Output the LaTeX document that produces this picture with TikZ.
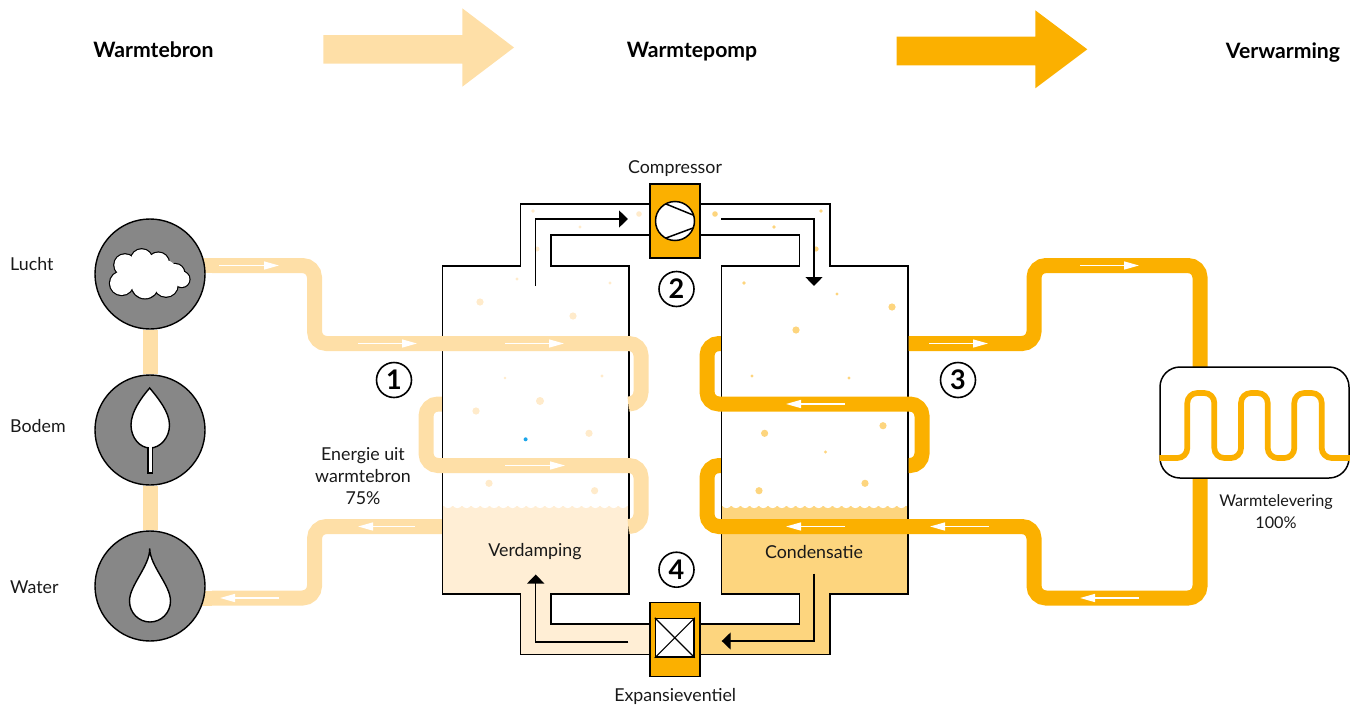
\documentclass[tikz,border=0pt]{standalone}
\usepackage{fontspec}
\setmainfont{Lato}
\usetikzlibrary{arrows.meta,positioning,shapes.geometric,backgrounds}
\definecolor{pipelight}{HTML}{FEDFA7}
\definecolor{pipedark}{HTML}{FBB000}
\definecolor{liquidlight}{HTML}{FFEED5}
\definecolor{liquiddark}{HTML}{FDD57E}
\definecolor{sourcegray}{HTML}{878787}
\definecolor{bubblelight}{HTML}{FFEBCB}
\definecolor{bubbledropblue}{HTML}{1BA5EA}
\begin{document}
\begin{tikzpicture}[x=1pt,y=-1pt,>=Triangle]
    \tikzset{
        lab/.style={font={\fontsize{17.8}{22}\selectfont}, text=black!90, align=center, inner sep=0pt},
        head/.style={font={\fontsize{21.2}{24}\selectfont\bfseries}, inner sep=0pt},
        num/.style={circle, draw, line width=1.6, minimum size=35, inner sep=0pt, font={\fontsize{27}{27}\selectfont\bfseries}},
        source/.style={circle, draw, line width=1.4, fill=sourcegray, minimum size=110, inner sep=0pt},
        tank/.style={draw, line width=1.5, line join=miter},
        unit/.style={draw, line width=1.5, fill=pipedark, minimum width=50, minimum height=74, inner sep=0pt},
        pipel/.style={line width=15, pipelight, rounded corners=12},
        piped/.style={line width=15, pipedark, rounded corners=12},
        flow/.style={->, line width=1.4, black, >={Triangle[length=9,width=17]}},
        wflow/.style={->, line width=1.4, white, >={Triangle[length=15,width=8]}},
        icon/.style={draw, line width=1.4, fill=white},
    }
    \useasboundingbox (0,0) rectangle (1362,704);

    \fill[pipelight] (323.3,35) -- (462.3,35) -- (462.3,8.3) -- (514,47.5) -- (462.3,86.7) -- (462.3,63.7) -- (323.3,63.7) -- cycle;
    \fill[pipedark] (896.7,36.7) -- (1035.3,36.7) -- (1035.3,10.3) -- (1087.3,49.3) -- (1035.3,88.3) -- (1035.3,65.3) -- (896.7,65.3) -- cycle;

    \node[head] (warmtebron) at (153.5,50) {Warmtebron};
    \node[head] (warmtepomp) at (692,52) {Warmtepomp};
    \node[head] (verwarming) at (1283,52.5) {Verwarming};

    \node[source] (lucht) at (150,274) {};
    \node[source] (bodem) at (150,430) {};
    \node[source] (water) at (150,586) {};
    \coordinate (luchtuit) at (212,265.5);
    \coordinate (wateruit) at (212,598);
    \begin{scope}[on background layer]
        \draw[line width=15, pipelight] (lucht) -- (bodem);
        \draw[line width=15, pipelight] (bodem) -- (water);
        \draw[line width=15, pipelight] (lucht |- luchtuit) -- (luchtuit);
        \draw[line width=15, pipelight] (water |- wateruit) -- (wateruit);
    \end{scope}

    \node[lab, right] at (10,264) {Lucht};
    \node[lab, right] at (10,426) {Bodem};
    \node[lab, right] at (10,587) {Water};

    \foreach \cx/\cy/\cr in {125/265/10.7, 141.7/260/10.7, 158.3/263.3/10.7, 175/273.3/9.3, 181.7/279.3/7.7, 121.7/283.3/11.7, 145/285/13.3, 166/285/11.7}
        \fill[black] (\cx,\cy) circle[radius=\cr+1.2];
    \foreach \cx/\cy/\cr in {125/265/10.7, 141.7/260/10.7, 158.3/263.3/10.7, 175/273.3/9.3, 181.7/279.3/7.7, 121.7/283.3/11.7, 145/285/13.3, 166/285/11.7, 150/272/13, 135/272/12, 165/272/12}
        \fill[white] (\cx,\cy) circle[radius=\cr];

    \draw[icon] (148,446) rectangle (152.3,473);
    \draw[icon] (149.7,388) .. controls (141,398) and (131,412) .. (131,425) .. controls (131,438) and (140,448) .. (150,448) .. controls (160,448) and (169.5,438) .. (169.5,425) .. controls (169.5,412) and (158,398) .. (149.7,388) -- cycle;
    \fill[white] (148.8,444) rectangle (151.5,449);
    \draw[icon] (149.7,548.5) .. controls (150,566) and (129.5,585) .. (129.5,601) .. controls (129.5,613) and (139,622) .. (150,622) .. controls (161,622) and (170.5,613) .. (170.5,601) .. controls (170.5,585) and (150,566) .. (149.7,548.5) -- cycle;

    % tanks
    \fill[white] (443,266) -- (520.5,266) -- (520.5,204) -- (651,204) -- (651,235) -- (551,235) -- (551,266) -- (629,266) -- (629,594) -- (443,594) -- cycle;
    \fill[liquidlight] (443,505.5) rectangle (629,594);
    \fill[liquidlight] (520.5,594) -- (551,594) -- (551,624) -- (651,624) -- (651,654.3) -- (520.5,654.3) -- cycle;
    \fill[liquiddark] (721,505.5) rectangle (908,594);
    \fill[liquiddark] (830,594) -- (800,594) -- (800,624) -- (700,624) -- (700,654.3) -- (830,654.3) -- cycle;
    \foreach \wx in {0,...,19} {
        \fill[white] (443.5+9.2*\wx,505.3) .. controls (445.5+9.2*\wx,509) and (450.7+9.2*\wx,509) .. (452.7+9.2*\wx,505.3) -- cycle;
        \fill[white] (722+9.2*\wx,505.3) .. controls (724+9.2*\wx,509) and (729.2+9.2*\wx,509) .. (731.2+9.2*\wx,505.3) -- cycle;
    }
    \draw[tank] (650,204) -- (520.5,204) -- (520.5,266) -- (442.5,266) -- (442.5,594) -- (520.5,594) -- (520.5,654.3) -- (650,654.3);
    \draw[tank] (650,235) -- (551,235) -- (551,266) -- (629,266) -- (629,594) -- (551,594) -- (551,624) -- (650,624);
    \draw[tank] (700,204) -- (830,204) -- (830,266) -- (908,266) -- (908,594) -- (830,594) -- (830,654.3) -- (700,654.3);
    \draw[tank] (700,235) -- (799.5,235) -- (799.5,266) -- (721.5,266) -- (721.5,594) -- (799.5,594) -- (799.5,624) -- (700,624);

    % bubbles
    \foreach \bx/\by/\br in {533/211/1.8, 639/214/2.8, 580/227/1.6, 537/249/2.5, 517/279/1.6, 610/283/1.6, 480/302/3.6, 573/316/3.6, 505/378/1.4, 602/376/1.6, 540/401/4, 476/411/3.6, 589/433.3/3.6, 489/483.3/3.6, 594.6/490.7/3.6}
        \fill[bubblelight] (\bx,\by) circle[radius=\br];
    \foreach \bx/\by/\br in {715/214/2.8, 821/211/1.8, 774/227/1.8, 816/249/2.6, 744/283/1.8, 837/294/1.6, 892/307/3.6, 796/330/3.6, 752/376/1.6, 849/378/1.6, 764.6/433.3/3.6, 883/425.7/3.6, 825.5/452/1.6, 865/483.3/3.6, 759/490.7/3.6}
        \fill[liquiddark] (\bx,\by) circle[radius=\br];
    \fill[bubbledropblue] (525.6,439.3) circle[radius=2];

    % pipes
    \draw[pipel] (luchtuit) -- (314.5,265.5) -- (314.5,343.5) -- (641,343.5) -- (641,404) -- (629.7,404);
    \draw[pipel] (441.8,404) -- (426,404) -- (426,465.5) -- (641,465.5) -- (641,526.5) -- (629.7,526.5);
    \draw[pipel] (441.8,526.5) -- (314.5,526.5) -- (314.5,598) -- (wateruit);
    \draw[piped] (720.8,343.5) -- (707,343.5) -- (707,404) -- (922,404) -- (922,465.5) -- (908.7,465.5);
    \draw[piped] (720.8,465.5) -- (707,465.5) -- (707,526.5) -- (1034,526.5) -- (1034,598) -- (1200,598) -- (1200,265.5) -- (1034,265.5) -- (1034,343.5) -- (908.7,343.5);

    \foreach \ax/\ay/\az in {219/265.5/279, 358/343.5/417, 505/343.5/564, 505/465.5/565, 415/526.5/358, 279/598/220, 845/404/786, 845/526.5/786, 989/526.5/930, 929/343.5/988, 1080/265.5/1139, 1139/598/1080}
        \draw[wflow] (\ax,\ay) -- (\az,\ay);

    \draw[flow] (535.7,286) -- (535.7,219) -- (628,219);
    \draw[flow] (721,219) -- (814,219) -- (814,286);
    \draw[flow] (628.3,642) -- (535.7,642) -- (535.7,574.5);
    \draw[flow] (814,573.5) -- (814,641) -- (721.7,641);

    % compressor and valve
    \node[unit] (compressor) at (675,221) {};
    \node[circle, draw, line width=1.5, fill=white, minimum size=39, inner sep=0pt] (rotor) at (compressor) {};
    \draw[line width=1.5] (666,204) -- (693,215);
    \draw[line width=1.5] (666,238) -- (693,228);
    \node[unit] (ventiel) at (675.2,639.7) {};
    \node[draw, line width=1.5, fill=white, minimum size=38.5, inner sep=0pt] (kruis) at (674.8,637.8) {};
    \draw[line width=1.2] (kruis.north west) -- (kruis.south east);
    \draw[line width=1.2] (kruis.north east) -- (kruis.south west);

    \node[lab, above=6.5pt of compressor] (compressorlab) {Compressor};
    \node[lab, below=10.5pt of ventiel] (ventiellab) {Expansieventiel};

    % heat delivery
    \node[draw, line width=1.5, fill=white, rounded corners=20, minimum width=189, minimum height=111, inner sep=0pt] (afgifte) at (1254.5,422.5) {};
    \draw[line width=5.7, pipedark, rounded corners=10] (afgifte.west |- 0,458) -- (1187.3,458) -- (1187.3,393) -- (1214.3,393) -- (1214.3,458) -- (1241,458) -- (1241,393) -- (1267.7,393) -- (1267.7,458) -- (1294.3,458) -- (1294.3,393) -- (1321.7,393) -- (1321.7,458) -- (afgifte.east |- 0,458);

    \node[num] (een) at (394,380) {1};
    \node[num] (twee) at (676.5,289) {2};
    \node[num] (drie) at (958,380) {3};
    \node[num] (vier) at (676.5,569.7) {4};

    \node[lab] at (363,476) {Energie uit\\warmtebron\\75\%};
    \node[lab, font={\fontsize{16.2}{22}\selectfont}] at (1276,512) {Warmtelevering\\100\%};
    \node[lab] at (535,552) {Verdamping};
    \node[lab] at (814,552) {Condensatie};
\end{tikzpicture}
\end{document}
